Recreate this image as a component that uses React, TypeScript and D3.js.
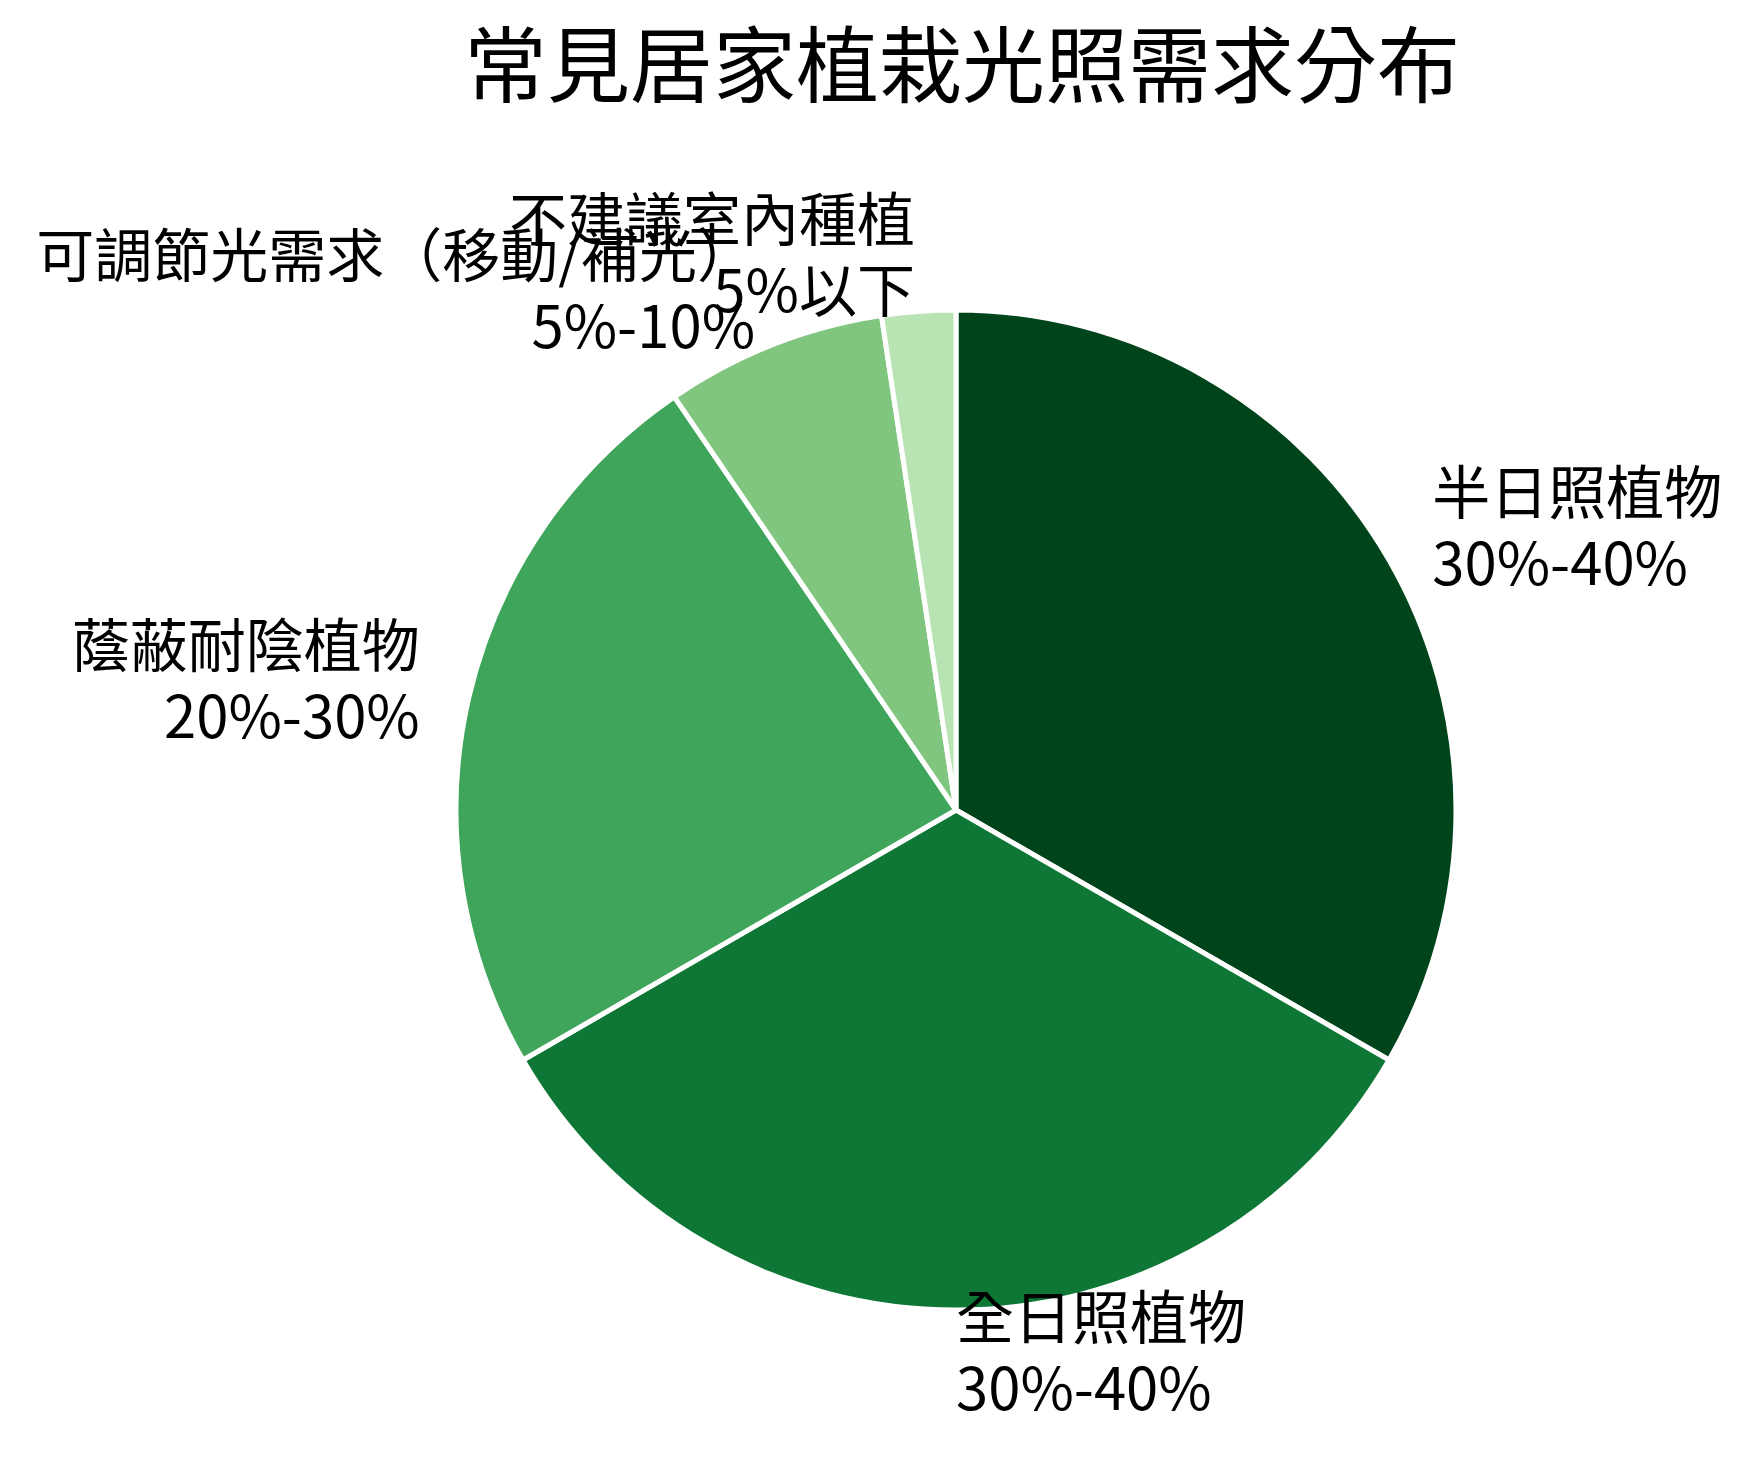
import React, { useEffect, useRef } from "react";
import * as d3 from "d3";

const title = "常見居家植栽光照需求分布";
const categories = [
  "半日照植物",
  "全日照植物",
  "蔭蔽耐陰植物",
  "可調節光需求（移動/補光）",
  "不建議室內種植",
];
const ranges = ["30%-40%", "30%-40%", "20%-30%", "5%-10%", "5%以下"];
// midpoints of each range
const values = [35, 35, 25, 7.5, 2.5];
const colors = ["#00441b", "#0e7735", "#3ea55b", "#81c67f", "#b8e3b2"];

const App: React.FC = () => {
  const svgRef = useRef<SVGSVGElement | null>(null);

  useEffect(() => {
    if (!svgRef.current) return;
    const svg = d3.select(svgRef.current);
    svg.selectAll("*").remove();

    const width = 1756;
    const height = 1468;
    const cx = 956;
    const cy = 810;
    const radius = 500;
    const font = '"Noto Sans CJK TC", "Noto Sans CJK SC", sans-serif';

    svg.attr("width", width).attr("height", height);

    svg
      .append("text")
      .attr("x", 962)
      .attr("y", 96)
      .attr("text-anchor", "middle")
      .style("font-family", font)
      .style("font-size", "83px")
      .attr("fill", "#000")
      .text(title);

    const pie = d3
      .pie<number>()
      .sort(null)
      .value((d) => d);
    const arcs = pie(values);

    const arc = d3.arc<d3.PieArcDatum<number>>().innerRadius(0).outerRadius(radius);

    const g = svg.append("g").attr("transform", `translate(${cx},${cy})`);

    g.selectAll("path")
      .data(arcs)
      .enter()
      .append("path")
      .attr("d", arc)
      .attr("fill", (d, i) => colors[i])
      .attr("stroke", "#fff")
      .attr("stroke-width", 5)
      .attr("stroke-linejoin", "round");

    // labels at 1.1 * radius, left/right aligned by side
    const labels = g
      .selectAll(".label")
      .data(arcs)
      .enter()
      .append("text")
      .attr("class", "label")
      .style("font-family", font)
      .style("font-size", "58px")
      .attr("fill", "#000")
      .attr("text-anchor", (d) => {
        const mid = (d.startAngle + d.endAngle) / 2;
        return Math.sin(mid) > -1e-6 ? "start" : "end";
      });

    labels.each(function (d, i) {
      const mid = (d.startAngle + d.endAngle) / 2;
      const x = 1.1 * radius * Math.sin(mid);
      const y = -1.1 * radius * Math.cos(mid);
      const t = d3.select(this);
      t.append("tspan").attr("x", x).attr("y", y - 21).text(categories[i]);
      t.append("tspan").attr("x", x).attr("y", y + 50).text(ranges[i]);
    });
  }, []);

  return (
    <svg
      ref={svgRef}
      style={{ position: "absolute", left: 0, top: 0, background: "#fff" }}
    ></svg>
  );
};

export default App;
